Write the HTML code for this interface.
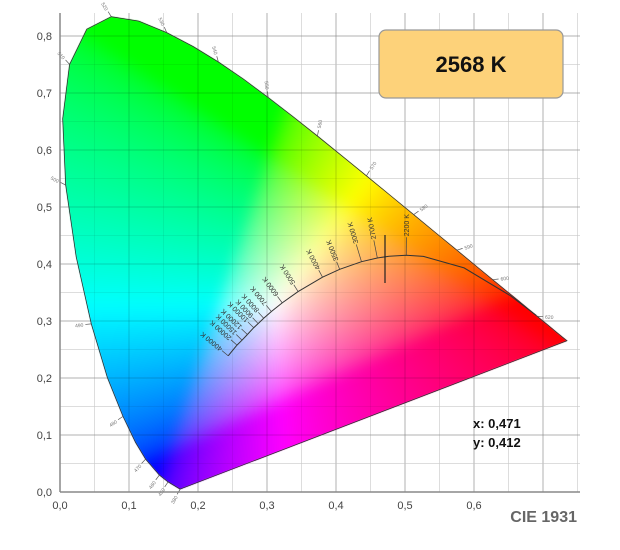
<!DOCTYPE html>
<html><head><meta charset="utf-8"><style>
html,body{margin:0;padding:0;background:#fff;width:620px;height:550px;overflow:hidden;position:relative}
svg,canvas{display:block;position:absolute;left:0;top:0;font-family:"Liberation Sans",sans-serif}
</style></head><body>
<svg width="620" height="550" xmlns="http://www.w3.org/2000/svg"><g id="grid"></g></svg>
<canvas id="cv" width="620" height="550"></canvas>
<svg id="s" width="620" height="550" viewBox="0 0 620 550" xmlns="http://www.w3.org/2000/svg">
<g id="grid2"></g>
<polygon id="outline" points="" fill="none" stroke="#333" stroke-width="0.8"/>
<g id="wl"></g>
<polyline id="planck" points="" fill="none" stroke="#333" stroke-width="1"/>
<g id="iso"></g>
<line x1="385" y1="235" x2="385" y2="283" stroke="#222" stroke-width="1.2"/>
<line x1="60" y1="13" x2="60" y2="492" stroke="#888" stroke-width="1.5"/>
<line x1="60" y1="492" x2="580" y2="492" stroke="#888" stroke-width="1.5"/>
<g id="lab" font-size="11" fill="#444"></g>
<rect x="379" y="30" width="184" height="68" rx="7" fill="#fdd27a" stroke="#999" stroke-width="1.2"/>
<text x="471" y="72" text-anchor="middle" font-size="22" font-weight="bold" fill="#111">2568 K</text>
<text x="473" y="428" font-size="13" font-weight="bold" fill="#111">x: 0,471</text>
<text x="473" y="447" font-size="13" font-weight="bold" fill="#111">y: 0,412</text>
<text x="577" y="522" text-anchor="end" font-size="16" font-weight="bold" fill="#666">CIE 1931</text>
</svg>
<script>
var NS="http://www.w3.org/2000/svg";
function X(x){return 60+690*x}function Y(y){return 492-570*y}
function el(t,a,p,txt){var e=document.createElementNS(NS,t);for(var k in a)e.setAttribute(k,a[k]);if(txt!=null)e.textContent=txt;p.appendChild(e);return e}
var L=[[380,.1741,.0050],[450,.1566,.0177],[460,.1440,.0297],[470,.1241,.0578],[475,.1096,.0868],[480,.0913,.1327],[485,.0687,.2007],[490,.0454,.2950],[495,.0235,.4127],[500,.0082,.5384],[505,.0039,.6548],[510,.0139,.7502],[515,.0389,.8120],[520,.0743,.8338],[525,.1142,.8262],[530,.1547,.8059],[535,.1929,.7816],[540,.2296,.7543],[545,.2658,.7243],[550,.3016,.6923],[555,.3373,.6589],[560,.3731,.6245],[565,.4087,.5896],[570,.4441,.5547],[575,.4788,.5202],[580,.5125,.4866],[585,.5448,.4544],[590,.5752,.4242],[595,.6029,.3965],[600,.6270,.3725],[610,.6658,.3340],[620,.6915,.3083],[630,.7079,.2920],[640,.7190,.2809],[700,.7347,.2653]];
var pts=L.map(function(p){return X(p[1]).toFixed(1)+","+Y(p[2]).toFixed(1)}).join(" ");
document.getElementById("outline").setAttribute("points",pts);
var cv=document.getElementById("cv"),ctx=cv.getContext("2d");
ctx.beginPath();L.forEach(function(p,i){var x=X(p[1]),y=Y(p[2]);if(i)ctx.lineTo(x,y);else ctx.moveTo(x,y)});ctx.closePath();ctx.clip();
var img=ctx.createImageData(620,550),d=img.data;
function g(c){c=Math.max(0,c);return c<=0.0031308?12.92*c:1.055*Math.pow(c,1/2.4)-0.055}
for(var py=0;py<550;py++)for(var px=0;px<620;px++){
var x=(px-60)/690,y=(492-py)/570;if(y<=0.001)y=0.001;
var XX=x/y,ZZ=(1-x-y)/y,YY=1;
var r=3.2406*XX-1.5372*YY-0.4986*ZZ,gg=-0.9689*XX+1.8758*YY+0.0415*ZZ,b=0.0557*XX-0.2040*YY+1.0570*ZZ;
r=Math.max(0,r);gg=Math.max(0,gg);b=Math.max(0,b);var m=Math.max(r,gg,b)||1;
var i=(py*620+px)*4;d[i]=255*g(r/m);d[i+1]=255*g(gg/m);d[i+2]=255*g(b/m);d[i+3]=255;}
var tmp=document.createElement("canvas");tmp.width=620;tmp.height=550;tmp.getContext("2d").putImageData(img,0,0);
ctx.drawImage(tmp,0,0);
try{ctx.filter="blur(7px)";ctx.drawImage(tmp,0,0);ctx.filter="none";}catch(e){}
var gr=document.getElementById("grid"),g2=document.getElementById("grid2");
for(var i=1;i<=15;i++){var x=X(i*0.05),maj=i%2==0;
el("line",{x1:x,y1:13,x2:x,y2:492,stroke:maj?"#d4d4d4":"#ebebeb","stroke-width":1},gr);
el("line",{x1:x,y1:13,x2:x,y2:492,stroke:"rgba(0,0,0,"+(maj?0.16:0.06)+")","stroke-width":1},g2);}
for(var i=1;i<=16;i++){var y=Y(i*0.05),maj=i%2==0;
el("line",{x1:60,y1:y,x2:580,y2:y,stroke:maj?"#d4d4d4":"#ebebeb","stroke-width":1},gr);
el("line",{x1:60,y1:y,x2:580,y2:y,stroke:"rgba(0,0,0,"+(maj?0.16:0.06)+")","stroke-width":1},g2);}
var lab=document.getElementById("lab");
for(var i=0;i<=8;i++){el("text",{x:52,y:Y(i/10)+4,"text-anchor":"end"},lab,"0,"+i);}
for(var i=0;i<=6;i++){el("text",{x:X(i/10),y:509,"text-anchor":"middle"},lab,"0,"+i);}
var wl=document.getElementById("wl"),cx=X(0.33),cy=Y(0.33);
var show=[380,450,460,470,480,490,500,510,520,530,540,550,560,570,580,590,600,620];
L.forEach(function(p){if(show.indexOf(p[0])<0)return;var x=X(p[1]),y=Y(p[2]);var dx=x-cx,dy=y-cy,n=Math.hypot(dx,dy);dx/=n;dy/=n;
el("line",{x1:x,y1:y,x2:x+dx*6,y2:y+dy*6,stroke:"#555","stroke-width":0.7},wl);
var a=Math.atan2(dy,dx)*180/Math.PI;var tx=x+dx*8,ty=y+dy*8;
var anc="start";if(Math.abs(a)>90){a+=180;anc="end"}
el("text",{x:tx,y:ty+2,"font-size":5,fill:"#777","text-anchor":anc,transform:"rotate("+a+" "+tx+" "+ty+")"},wl,p[0]);});
var P=[[0,.69,.31],[1000,.6528,.3444],[1500,.5857,.3931],[2000,.5267,.4133],[2200,.5018,.4153],[2500,.4770,.4137],[2700,.4599,.4106],[3000,.4369,.4041],[3500,.4053,.3907],[4000,.3805,.3768],[5000,.3451,.3516],[6000,.3221,.3318],[7000,.3064,.3166],[8000,.2952,.3048],[9000,.2871,.2955],[10000,.2807,.2883],[12000,.2716,.2764],[15000,.2637,.2664],[20000,.2565,.2577],[40000,.2437,.2390]];
document.getElementById("planck").setAttribute("points",P.map(function(p){return X(p[1]).toFixed(1)+","+Y(p[2]).toFixed(1)}).join(" "));
var iso=document.getElementById("iso");var lt=[2200,2700,3000,3500,4000,5000,6000,7000,8000,9000,10000,12000,15000,20000,40000];
for(var i=1;i<P.length;i++){var t=P[i][0];if(lt.indexOf(t)<0)continue;
var a=P[i-1],b=P[Math.min(i+1,P.length-1)];var tx_=X(b[1])-X(a[1]),ty_=Y(b[2])-Y(a[2]);var n=Math.hypot(tx_,ty_);
var nx=ty_/n,ny=-tx_/n;if(ny>0){nx=-nx;ny=-ny}
var x=X(P[i][1]),y=Y(P[i][2]);var len=(t<=3000)?18:8;
el("line",{x1:x,y1:y,x2:x+nx*len,y2:y+ny*len,stroke:"#444","stroke-width":0.7},iso);
var ang=Math.atan2(ny,nx)*180/Math.PI;var sx=x+nx*(len+1),sy=y+ny*(len+1);
el("text",{x:sx,y:sy+2.5,"font-size":7,fill:"#333",transform:"rotate("+ang+" "+sx+" "+sy+")"},iso,t+" K");}
</script>
</body></html>
